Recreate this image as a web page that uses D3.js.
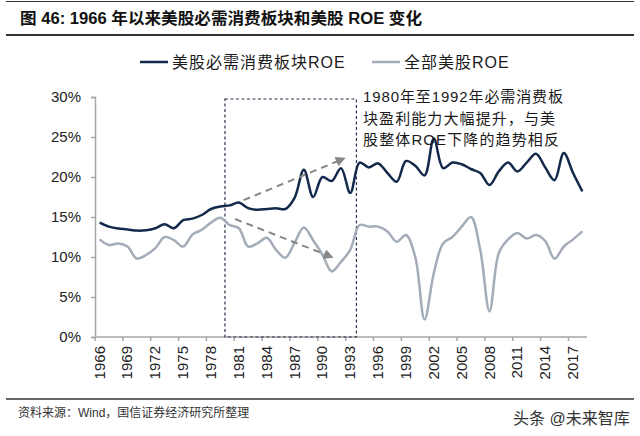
<!DOCTYPE html>
<html>
<head>
<meta charset="utf-8">
<script src="https://cdn.jsdelivr.net/npm/d3@7"></script>
<style>
body { margin: 0; background: #fff; }
text { font-family: "Liberation Sans", Arial, "Noto Sans CJK SC", sans-serif; }
</style>
</head>
<body>
<div id="chart"></div>
<script>
// data (ROE, %)
var years = d3.range(1966, 2019);
var staplesRoe = [14.3, 13.8, 13.55, 13.45, 13.3, 13.35, 13.6, 14.1, 13.6, 14.6,
    14.8, 15.25, 16.0, 16.3, 16.45, 16.8, 16.1, 15.9, 16.0, 16.1,
    16.0, 17.4, 20.9, 17.5, 20.0, 19.5, 21.1, 18.0, 21.8, 21.2,
    21.7, 20.5, 19.4, 22.0, 21.4, 20.2, 24.8, 21.1, 21.8, 21.6,
    21.0, 20.5, 19.0, 20.7, 21.8, 20.7, 21.8, 22.9, 21.2, 19.6,
    23.0, 20.5, 18.2];
var marketRoe = [12.2, 11.5, 11.7, 11.3, 9.8, 10.25, 11.1, 12.5, 12.1, 11.3,
    12.8, 13.4, 14.3, 14.9, 14.0, 13.6, 11.3, 11.7, 12.4, 10.9,
    9.9, 11.8, 13.7, 12.1, 10.3, 8.2, 9.4, 10.9, 14.0, 13.8,
    13.8, 13.2, 11.9, 12.75, 10.0, 2.2, 8.0, 11.7, 12.5, 13.8,
    15.0, 10.9, 3.2, 10.5, 12.2, 13.0, 12.3, 12.75, 12.0, 9.8,
    11.3, 12.2, 13.2];
var seriesNames = ["美股必需消费板块ROE", "全部美股ROE"];
var yTicks = [0, 5, 10, 15, 20, 25, 30];
var xTickYears = d3.range(1966, 2018, 3);
var noteLines = ["1980年至1992年必需消费板", "块盈利能力大幅提升，与美", "股整体ROE下降的趋势相反"];

var svgWidth = 640, svgHeight = 436;
var plot = { left: 95, right: 587, top: 97, bottom: 337 };
var darkColor = "#13294b", greyColor = "#a3acb8", axisColor = "#a6a6a6";

var svg = d3.select("#chart").append("svg")
    .attr("width", svgWidth)
    .attr("height", svgHeight);

var defs = svg.append("defs");
defs.append("marker")
    .attr("id", "arrow")
    .attr("viewBox", "0 0 10 10")
    .attr("refX", 8).attr("refY", 5)
    .attr("markerWidth", 5).attr("markerHeight", 5)
    .attr("markerUnits", "strokeWidth")
    .attr("orient", "auto")
    .append("path")
    .attr("d", "M0,0 L10,5 L0,10 Z")
    .attr("fill", "#878787");

// title block
svg.append("line").attr("x1", 6).attr("x2", 634).attr("y1", 1.5).attr("y2", 1.5)
    .attr("stroke", "#333").attr("stroke-width", 1);
svg.append("text")
    .attr("x", 20).attr("y", 24)
    .attr("font-size", 16).attr("font-weight", "bold").attr("fill", "#111")
    .attr("textLength", 402).attr("lengthAdjust", "spacingAndGlyphs")
    .text("图 46: 1966 年以来美股必需消费板块和美股 ROE 变化");
svg.append("line").attr("x1", 6).attr("x2", 634).attr("y1", 35).attr("y2", 35)
    .attr("stroke", "#333").attr("stroke-width", 2);

// scales
var x = d3.scaleBand().domain(years).range([plot.left, plot.right]);
var bw = x.bandwidth();
var xc = function (yr) { return x(yr) + bw / 2; };
var y = d3.scaleLinear().domain([0, 30]).range([plot.bottom, plot.top]);

// y axis
var yAxis = d3.axisLeft(y).tickValues(yTicks).tickSize(4).tickPadding(10)
    .tickFormat(function (d) { return d + "%"; });
var yG = svg.append("g").attr("transform", "translate(" + plot.left + ",0)").call(yAxis);
yG.select(".domain").attr("stroke", axisColor).attr("stroke-width", 1.5);
yG.selectAll(".tick line").attr("stroke", axisColor).attr("stroke-width", 1.5);
yG.selectAll(".tick text").attr("font-size", 15).attr("fill", "#222")
    .attr("font-family", "Liberation Sans, Arial, sans-serif");

// x axis
var xG = svg.append("g");
xG.append("line")
    .attr("x1", plot.left).attr("x2", plot.right)
    .attr("y1", plot.bottom).attr("y2", plot.bottom)
    .attr("stroke", axisColor).attr("stroke-width", 1.5);
xG.selectAll(".xtick").data(xTickYears).enter().append("line")
    .attr("x1", function (d) { return x(d); }).attr("x2", function (d) { return x(d); })
    .attr("y1", plot.bottom).attr("y2", plot.bottom + 4)
    .attr("stroke", axisColor).attr("stroke-width", 1.5);
xG.selectAll(".xlabel").data(xTickYears).enter().append("text")
    .attr("transform", function (d) { return "translate(" + (xc(d) + 5) + "," + (plot.bottom + 9) + ") rotate(-90)"; })
    .attr("text-anchor", "end")
    .attr("font-size", 15).attr("fill", "#222")
    .text(function (d) { return d; });

// dashed box 1980-1993
svg.append("rect")
    .attr("x", x(1980)).attr("y", y(29.75))
    .attr("width", x(1994) + 1.5 - x(1980)).attr("height", y(0) - y(29.75))
    .attr("fill", "none").attr("stroke", "#26334d")
    .attr("stroke-width", 1.2).attr("stroke-dasharray", "3,2.5");

// lines
var line = d3.line()
    .x(function (d) { return xc(d[0]); })
    .y(function (d) { return y(d[1]); })
    .curve(d3.curveCatmullRom.alpha(0.5));

svg.append("path")
    .datum(d3.zip(years, marketRoe))
    .attr("d", line)
    .attr("fill", "none").attr("stroke", greyColor).attr("stroke-width", 2.5);
svg.append("path")
    .datum(d3.zip(years, staplesRoe))
    .attr("d", line)
    .attr("fill", "none").attr("stroke", darkColor).attr("stroke-width", 2.5);

// trend arrows (year, %)
var arrows = [
    [[1981.5, 17.1], [1992.3, 22.3]],
    [[1980.6, 14.75], [1991.0, 10.0]]
];
svg.selectAll(".arrow").data(arrows).enter().append("line")
    .attr("x1", function (d) { return x(1966) + (d[0][0] - 1966 + 0.5) * bw; })
    .attr("y1", function (d) { return y(d[0][1]); })
    .attr("x2", function (d) { return x(1966) + (d[1][0] - 1966 + 0.5) * bw; })
    .attr("y2", function (d) { return y(d[1][1]); })
    .attr("stroke", "#878787").attr("stroke-width", 2)
    .attr("stroke-dasharray", "7,5")
    .attr("marker-end", "url(#arrow)");

// note
var noteWidths = [200, 192, 196];
svg.selectAll(".note").data(noteLines).enter().append("text")
    .attr("x", 363)
    .attr("y", function (d, i) { return 102 + i * 21.7; })
    .attr("font-size", 15).attr("fill", "#1a1a1a")
    .attr("textLength", function (d, i) { return noteWidths[i]; })
    .attr("lengthAdjust", "spacing")
    .text(function (d) { return d; });

// legend
var legend = svg.append("g").attr("transform", "translate(0,62)");
var legendItems = [
    { name: seriesNames[0], color: darkColor, x: 140 },
    { name: seriesNames[1], color: greyColor, x: 372 }
];
legendItems.forEach(function (it) {
    legend.append("line")
        .attr("x1", it.x).attr("x2", it.x + 28).attr("y1", 0).attr("y2", 0)
        .attr("stroke", it.color).attr("stroke-width", 2.5);
    legend.append("text")
        .attr("x", it.x + 32).attr("y", 6)
        .attr("font-size", 16).attr("letter-spacing", 1).attr("fill", "#1a1a1a")
        .text(it.name);
});

// footer
svg.append("line").attr("x1", 6).attr("x2", 634).attr("y1", 399).attr("y2", 399)
    .attr("stroke", "#333").attr("stroke-width", 1.5);
svg.append("text")
    .attr("x", 18).attr("y", 417)
    .attr("font-size", 12).attr("fill", "#333")
    .text("资料来源：Wind，国信证券经济研究所整理");
svg.append("text")
    .attr("x", 513).attr("y", 424)
    .attr("font-size", 16).attr("fill", "#333")
    .text("头条 @未来智库");
</script>
</body>
</html>
